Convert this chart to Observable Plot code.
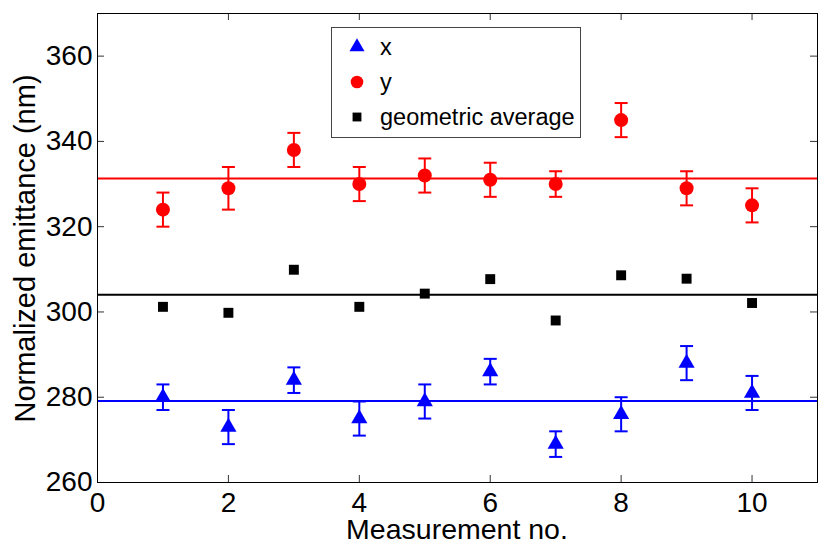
<!DOCTYPE html>
<html><head><meta charset="utf-8">
<script src="https://cdn.jsdelivr.net/npm/d3@7"></script>
<script src="https://cdn.jsdelivr.net/npm/@observablehq/plot@0.6"></script>
<style>
body{margin:0;background:#fff}
#chart{width:830px;height:554px}
svg{font-family:"Liberation Sans",Arial,Helvetica,sans-serif}
</style>
</head><body><div id="chart"></div>
<script>
const measurement = [1, 2, 3, 4, 5, 6, 7, 8, 9, 10];
const emitX = [280, 273, 284, 275, 279, 286, 269, 276, 288, 281];
const errX = [3, 4, 3, 4, 4, 3, 3, 4, 4, 4];
const emitY = [324, 329, 338, 330, 332, 331, 330, 345, 329, 325];
const errY = [4, 5, 4, 4, 4, 4, 3, 4, 4, 4];
const geoAvg = [301.2, 299.8, 309.9, 301.2, 304.3, 307.7, 298.0, 308.6, 307.8, 302.1];
const xTicks = [0, 2, 4, 6, 8, 10];
const yTicks = [260, 280, 300, 320, 340, 360];
const seriesNames = ["x", "y", "geometric average"];
const seriesColors = ["#0000ff", "#ff0000", "#000000"];
const xLabel = "Measurement no.";
const yLabel = "Normalized emittance (nm)";

const W = 830, H = 554;
const mL = 97, mR = 13, mT = 13, mB = 72;
const plotH = H - mT - mB, plotW = W - mL - mR;

const rowsX = measurement.map((m, i) => ({m, v: emitX[i], lo: emitX[i] - errX[i], hi: emitX[i] + errX[i]}));
const rowsY = measurement.map((m, i) => ({m, v: emitY[i], lo: emitY[i] - errY[i], hi: emitY[i] + errY[i]}));
const rowsG = measurement.map((m, i) => ({m, v: geoAvg[i]}));
const means = [d3.mean(emitX), d3.mean(emitY), d3.mean(geoAvg)];

const capSymbol = {draw(ctx, size) { const w = Math.sqrt(size / Math.PI); ctx.moveTo(-w, 0); ctx.lineTo(w, 0); }};

function errorMarks(rows, color) {
  return [
    Plot.ruleX(rows, {x: "m", y1: "lo", y2: "hi", stroke: color, strokeWidth: 2}),
    Plot.dot(rows, {x: "m", y: "lo", symbol: capSymbol, r: 6.5, stroke: color, fill: "none", strokeWidth: 2}),
    Plot.dot(rows, {x: "m", y: "hi", symbol: capSymbol, r: 6.5, stroke: color, fill: "none", strokeWidth: 2})
  ];
}

const tickColor = "#333";
const chart = Plot.plot({
  width: W, height: H,
  marginLeft: mL, marginRight: mR, marginTop: mT, marginBottom: mB,
  style: {fontFamily: '"Liberation Sans", Arial, sans-serif', background: "#fff", overflow: "visible"},
  x: {domain: [0, 11], ticks: xTicks},
  y: {domain: [260, 370], ticks: yTicks},
  marks: [
    Plot.axisX({ticks: xTicks, tickSize: 0, tickPadding: 10, fontSize: 28, label: null, fill: "#000"}),
    Plot.axisY({ticks: yTicks, tickSize: 0, tickPadding: 5, fontSize: 28, label: null, fill: "#000"}),
    Plot.tickX(xTicks, {x: d => d, insetTop: plotH - 7, stroke: tickColor}),
    Plot.tickX(xTicks, {x: d => d, insetBottom: plotH - 7, stroke: tickColor}),
    Plot.tickY(yTicks, {y: d => d, insetRight: plotW - 7, stroke: tickColor}),
    Plot.tickY(yTicks, {y: d => d, insetLeft: plotW - 7, stroke: tickColor}),
    Plot.ruleY([means[0]], {stroke: seriesColors[0], strokeWidth: 2}),
    Plot.ruleY([means[1]], {stroke: seriesColors[1], strokeWidth: 2}),
    Plot.ruleY([means[2]], {stroke: seriesColors[2], strokeWidth: 2}),
    ...errorMarks(rowsX, seriesColors[0]),
    ...errorMarks(rowsY, seriesColors[1]),
    Plot.dot(rowsX, {x: "m", y: "v", symbol: "triangle", r: 6, fill: seriesColors[0], stroke: "none"}),
    Plot.dot(rowsY, {x: "m", y: "v", r: 7, fill: seriesColors[1], stroke: "none"}),
    Plot.dot(rowsG, {x: "m", y: "v", symbol: "square", r: 5.6, fill: seriesColors[2], stroke: "none"}),
    Plot.frame({stroke: "#000", strokeWidth: 1})
  ]
});
document.getElementById("chart").appendChild(chart);

const svg = d3.select(chart);
const ff = '"Liberation Sans", Arial, sans-serif';
svg.append("text").attr("x", mL + plotW / 2).attr("y", 539).attr("text-anchor", "middle")
  .attr("font-size", 28.5).attr("font-family", ff).attr("fill", "#000").text(xLabel);
svg.append("text").attr("transform", `translate(35,${mT + plotH / 2 + 1}) rotate(-90)`).attr("text-anchor", "middle")
  .attr("font-size", 29).attr("font-family", ff).attr("fill", "#000").text(yLabel);

// legend
const lg = svg.append("g").attr("text-anchor", "start");
lg.append("rect").attr("x", 331.5).attr("y", 27.5).attr("width", 249).attr("height", 110)
  .attr("fill", "#fff").attr("stroke", "#444").attr("stroke-width", 1);
const legendSymbols = [d3.symbolTriangle, d3.symbolCircle, d3.symbolSquare];
const legendR = [5.6, 6.3, 5];
const legendY = [47, 82, 117];
seriesNames.forEach((name, i) => {
  lg.append("path").attr("transform", `translate(357,${legendY[i]})`)
    .attr("d", d3.symbol().type(legendSymbols[i]).size(Math.PI * legendR[i] * legendR[i])())
    .attr("fill", seriesColors[i]);
  lg.append("text").attr("x", 380).attr("y", legendY[i] + 8.3).attr("font-size", 23.5)
    .attr("text-anchor", "start").attr("font-family", ff).attr("fill", "#000").text(name);
});
</script>
</body></html>
